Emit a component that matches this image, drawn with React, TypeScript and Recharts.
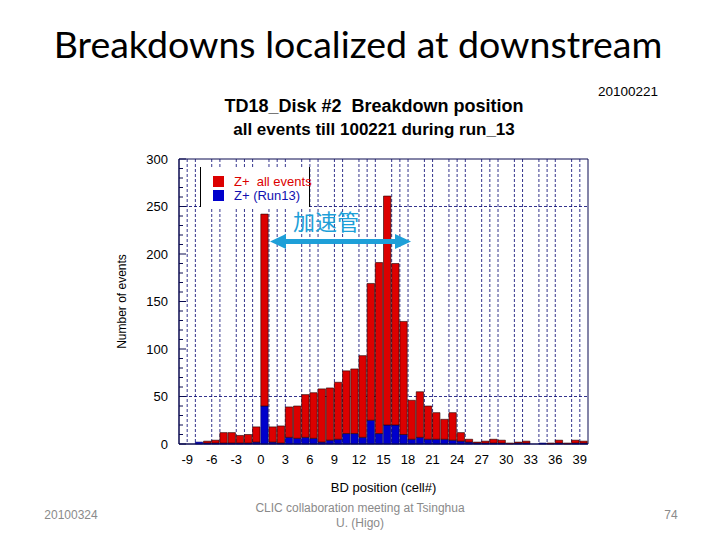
import React from 'react'
import { BarChart, Bar, XAxis, YAxis, CartesianGrid, ReferenceArea, Legend } from 'recharts'

// BD position bins (cell#), one entry per bin [c, c+1)
const cells = [
  -10, -9, -8, -7, -6, -5, -4, -3, -2, -1,
  0, 1, 2, 3, 4, 5, 6, 7, 8, 9,
  10, 11, 12, 13, 14, 15, 16, 17, 18, 19,
  20, 21, 22, 23, 24, 25, 26, 27, 28, 29,
  30, 31, 32, 33, 34, 35, 36, 37, 38, 39,
]
// Z+ all events
const allEvents = [
  0, 0, 2, 3, 4, 12, 12, 9, 10, 18,
  242, 18, 19, 39, 40, 52, 54, 58, 59, 65,
  77, 79, 93, 169, 191, 261, 190, 129, 46, 55,
  40, 33, 26, 33, 12, 5, 2, 3, 5, 4,
  1, 2, 3, 0, 1, 1, 4, 1, 4, 3,
]
// Z+ (Run13)
const run13 = [
  0, 0, 2, 1, 1, 1, 1, 1, 1, 2,
  40, 2, 1, 7, 6, 7, 6, 2, 4, 5,
  11, 11, 7, 25, 11, 20, 20, 10, 5, 7,
  5, 5, 5, 4, 3, 2, 1, 1, 1, 1,
  0, 1, 1, 0, 1, 0, 1, 0, 1, 1,
]
const xTicks = [-9, -6, -3, 0, 3, 6, 9, 12, 15, 18, 21, 24, 27, 30, 33, 36, 39]
const yTicks = [
  0, 10, 20, 30, 40, 50, 60, 70, 80, 90, 100, 110, 120, 130, 140, 150,
  160, 170, 180, 190, 200, 210, 220, 230, 240, 250, 260, 270, 280, 290, 300,
]
const gridX = [
  -9, -8, -6, -5, -3, -2, -1, 1, 2, 3, 5, 6, 7, 9, 10, 12, 13, 14,
  16, 17, 18, 20, 21, 23, 24, 25, 27, 28, 29, 31, 32, 34, 35, 36, 38, 39,
]
const gridY = [50, 250]

const data = cells.map((c, i) => ({
  x: c + 0.5,
  run13: run13[i],
  rest: allEvents[i] - run13[i],
}))

const axisColor = '#0a0a50'
const red = '#dc0000'
const blue = '#0000cc'
const font = '"Liberation Sans", Arial, sans-serif'

const LeftTick = (props: any) => {
  const { x, y, payload } = props
  const major = payload.value % 50 === 0
  return (
    <g>
      <line x1={x + 11} x2={x + 11 + (major ? 7 : 4)} y1={y} y2={y} stroke={axisColor} />
      {major && (
        <text x={x} y={y} dy="0.36em" textAnchor="end" fontSize={13} fontFamily={font} fill="#000">
          {payload.value}
        </text>
      )}
    </g>
  )
}

const RightTick = (props: any) => {
  const { x, y, payload } = props
  const major = payload.value % 50 === 0
  return <line x1={x} x2={x - (major ? 7 : 4)} y1={y} y2={y} stroke={axisColor} />
}

const BottomTick = (props: any) => {
  const { x, y, payload } = props
  return (
    <text x={x} y={y} dy="0.8em" textAnchor="middle" fontSize={13} fontFamily={font} fill="#000">
      {payload.value}
    </text>
  )
}

const LegendBox = () => (
  <div
    style={{
      position: 'relative',
      width: 108,
      height: 40,
      background: '#fff',
      borderLeft: '1px solid #000',
      borderRight: '1px solid #000',
      fontFamily: font,
      fontSize: 13,
      whiteSpace: 'pre',
      lineHeight: '12px',
    }}
  >
    <div style={{ position: 'absolute', left: 12, top: 9, width: 11, height: 11, background: red }} />
    <div style={{ position: 'absolute', left: 33, top: 9, color: red }}>Z+  all events</div>
    <div style={{ position: 'absolute', left: 12, top: 23, width: 11, height: 11, background: blue }} />
    <div style={{ position: 'absolute', left: 33, top: 23, color: '#1010b0' }}>Z+ (Run13)</div>
  </div>
)

export default function App() {
  return (
    <div style={{ position: 'absolute', left: 0, top: 0, width: 720, height: 540, background: '#fff' }}>
      <BarChart
        width={720}
        height={540}
        data={data}
        margin={{ top: 159, right: 132, bottom: 46, left: 119 }}
      >
        <CartesianGrid
          verticalValues={gridX}
          horizontalValues={gridY}
          stroke="#000070"
          strokeDasharray="3 2"
          strokeWidth={0.8}
        />
        <XAxis
          type="number"
          dataKey="x"
          domain={[-10, 40]}
          ticks={xTicks}
          interval={0}
          height={50}
          tickSize={0}
          tickMargin={10}
          tick={<BottomTick />}
          axisLine={{ stroke: axisColor }}
          label={{ value: 'BD position (cell#)', position: 'insideBottom', offset: 2, fontSize: 13, fontFamily: font, fill: '#000' }}
        />
        <YAxis
          type="number"
          domain={[0, 300]}
          ticks={yTicks}
          interval={0}
          width={60}
          tickSize={0}
          tickMargin={11}
          tick={<LeftTick />}
          axisLine={{ stroke: axisColor }}
          label={{
            value: 'Number of events',
            angle: -90,
            position: 'insideLeft',
            offset: 3,
            fontSize: 12,
            fontFamily: font,
            fill: '#000',
            style: { textAnchor: 'middle' },
          }}
        />
        <YAxis
          yAxisId="right"
          orientation="right"
          type="number"
          domain={[0, 300]}
          ticks={yTicks}
          interval={0}
          width={0}
          tickSize={0}
          tickMargin={0}
          tick={<RightTick />}
          axisLine={{ stroke: axisColor }}
        />
        <Bar dataKey="run13" stackId="a" fill={blue} stroke="#000060" strokeWidth={0.6} barSize={8.2} isAnimationActive={false} />
        <Bar dataKey="rest" stackId="a" fill={red} stroke="#200000" strokeWidth={0.6} barSize={8.2} isAnimationActive={false} />
        <ReferenceArea x1={-10} x2={40} y1={0} y2={300} fill="none" stroke={axisColor} strokeWidth={1} />
        <Legend
          layout="vertical"
          align="center"
          verticalAlign="middle"
          content={<LegendBox />}
          wrapperStyle={{ left: 200, top: 167, width: 110, height: 40 }}
        />
      </BarChart>

      <svg width={720} height={540} style={{ position: 'absolute', left: 0, top: 0, pointerEvents: 'none' }}>
        <text x={358} y={58} textAnchor="middle" fontSize={37.5} fontFamily="Lato, 'Open Sans', sans-serif" fill="#000">
          Breakdowns localized at downstream
        </text>
        <text x={628} y={96} textAnchor="middle" fontSize={13.5} fontFamily={font} fill="#000">
          20100221
        </text>
        <text x={374} y={112} textAnchor="middle" fontSize={18} fontWeight="bold" fontFamily={font} fill="#000" style={{ whiteSpace: 'pre' }}>
          TD18_Disk #2  Breakdown position
        </text>
        <text x={374} y={135} textAnchor="middle" fontSize={17} fontWeight="bold" fontFamily={font} fill="#000" style={{ whiteSpace: 'pre' }}>
          all events till 100221 during run_13
        </text>
        <text x={326} y={230} textAnchor="middle" fontSize={22} fontFamily="'Noto Sans CJK JP', 'Noto Sans CJK SC', sans-serif" fill="#1e9fd8">
          加速管
        </text>
        <g fill="#1e9fd8" stroke="none">
          <rect x={284} y={239} width={114} height={5} />
          <polygon points="270,241.5 286,234 286,249" />
          <polygon points="411,241.5 395,234 395,249" />
        </g>
        <g fontFamily="'Liberation Sans Narrow', 'Liberation Sans', sans-serif" fill="#8a8a8a" fontSize={12}>
          <text x={71} y={519} textAnchor="middle">20100324</text>
          <text x={360} y={512} textAnchor="middle">CLIC collaboration meeting at Tsinghua</text>
          <text x={360} y={527} textAnchor="middle">U. (Higo)</text>
          <text x={671} y={519} textAnchor="middle">74</text>
        </g>
      </svg>
    </div>
  )
}
